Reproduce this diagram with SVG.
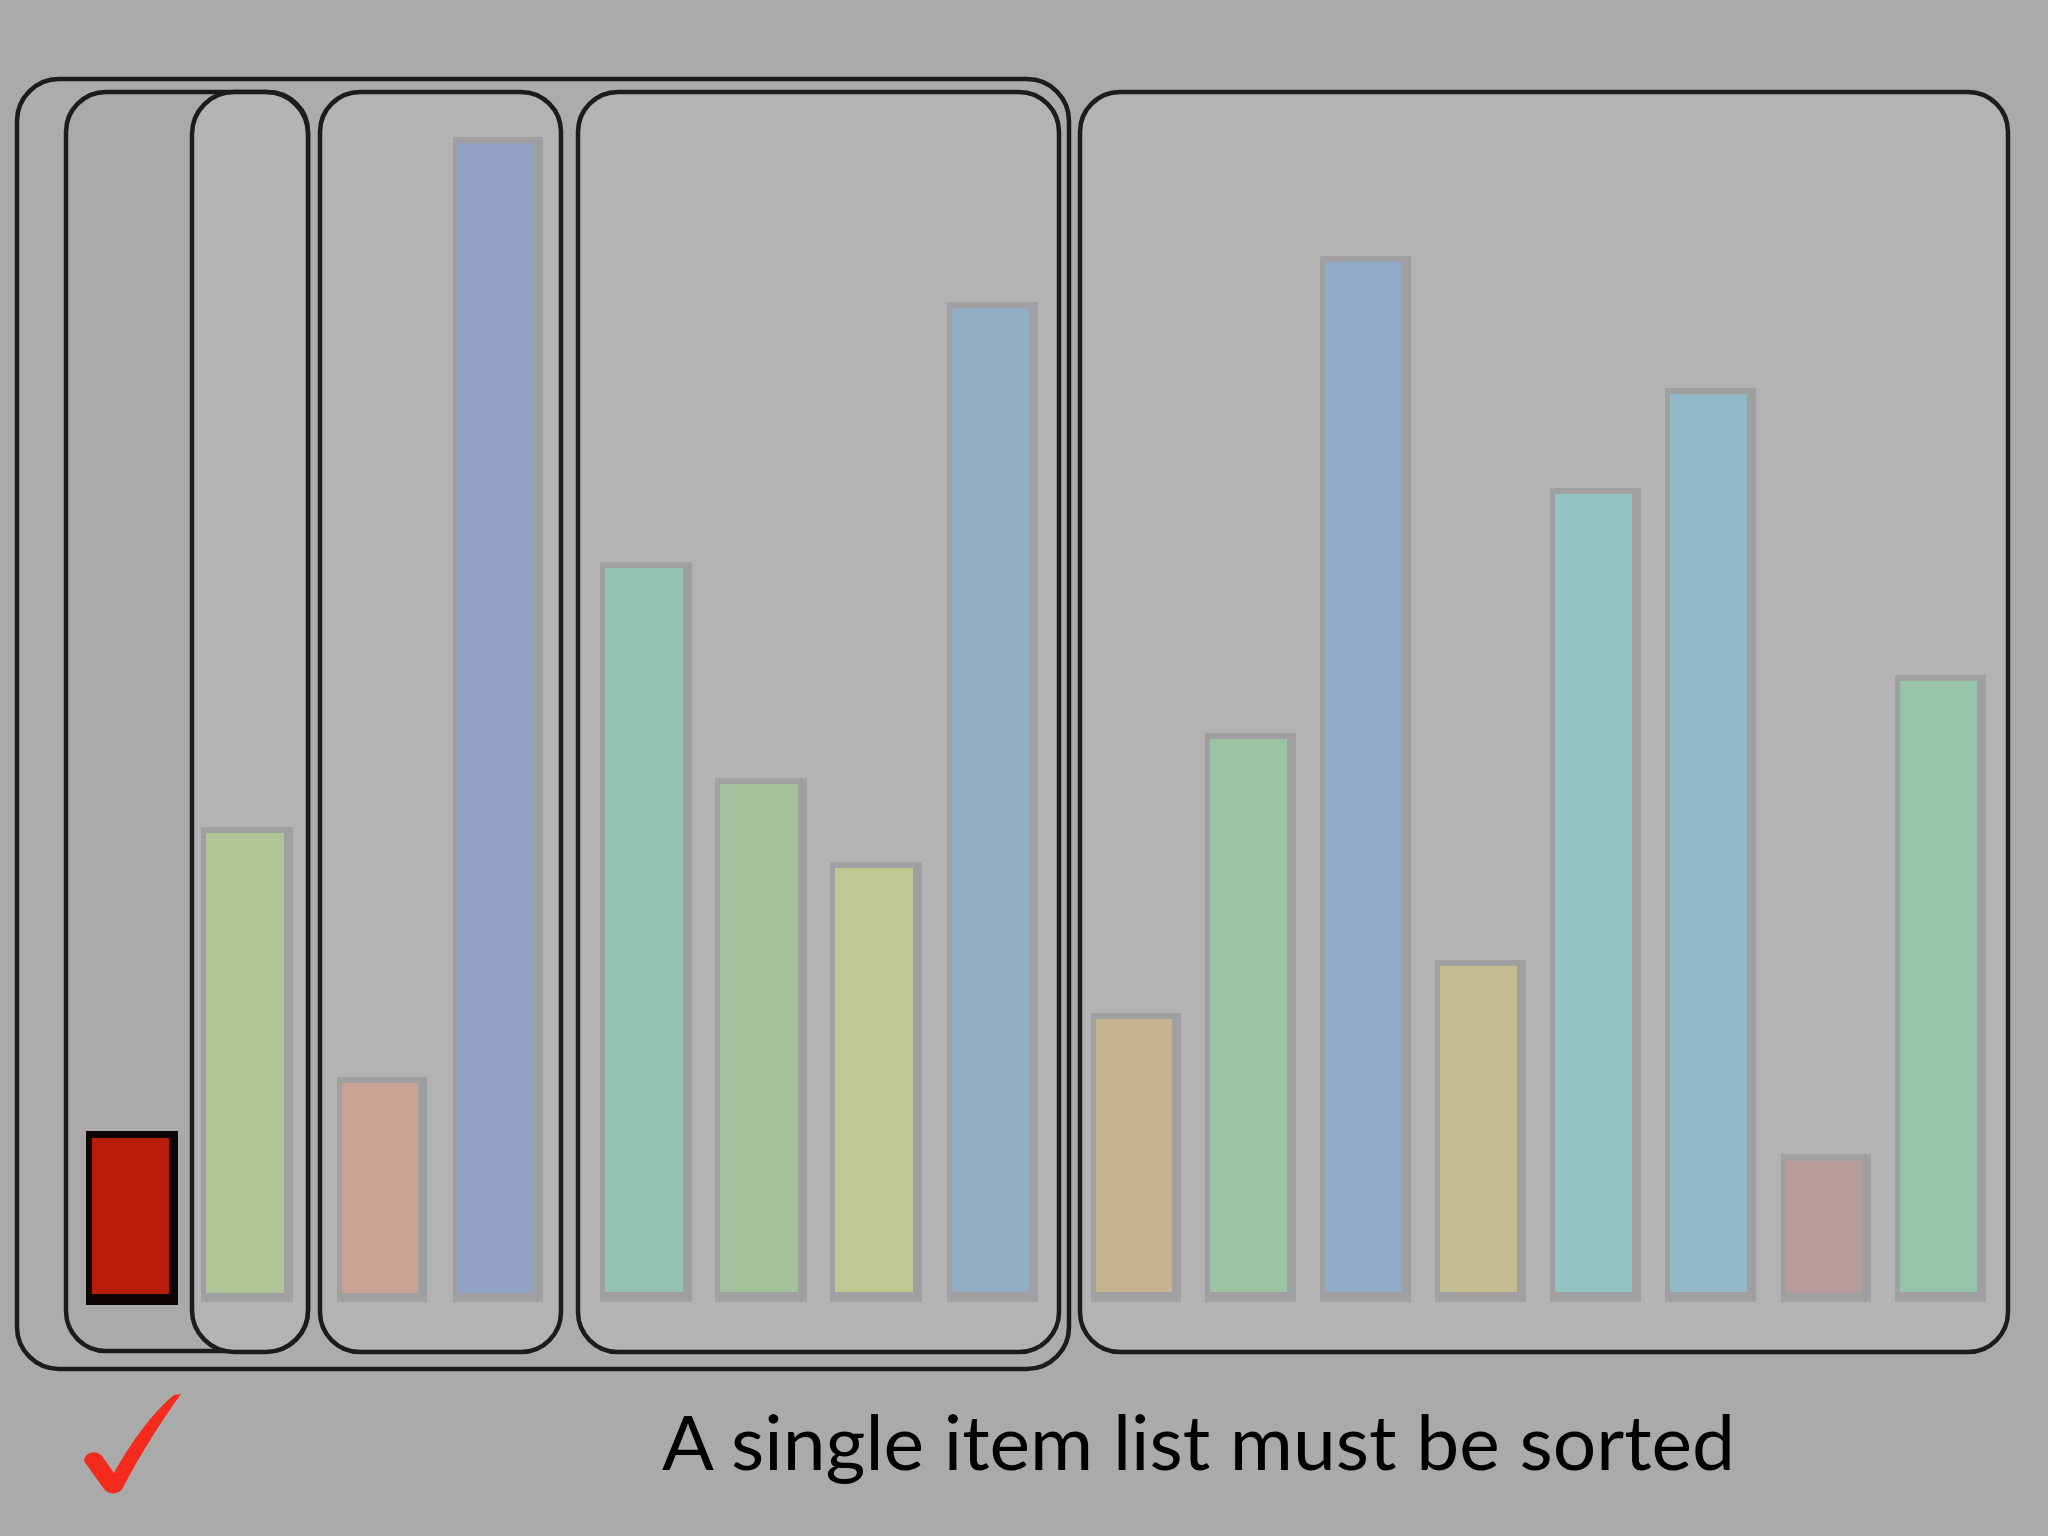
<svg xmlns="http://www.w3.org/2000/svg" width="2048" height="1536" viewBox="0 0 2048 1536">
<defs>
<style>
.box{fill:#b3b3b4;stroke:#1c1c1c;stroke-width:4.5}
.dark{fill:#aaaaab}
.bb{fill:#a0a0a2}
.txt{font-family:"Lato","Liberation Sans",sans-serif;font-size:76px;fill:#000}
</style>
</defs>
<rect width="2048" height="1536" fill="#aaaaaa"/>
<g id="outer"><rect x="17" y="79" width="1052" height="1290" rx="42" fill="#acacad" stroke="#1c1c1c" stroke-width="4.5"/></g>
<g id="box-left"><rect class="box dark" x="66" y="92" width="242" height="1259" rx="40"/></g>
<g id="box-one"><rect class="box" x="192" y="92" width="116" height="1260" rx="42" stroke-width="5.5"/></g>
<g id="box-two"><rect class="box" x="320" y="92" width="241" height="1260" rx="40"/></g>
<g id="box-four"><rect class="box" x="578" y="92" width="481" height="1260" rx="40"/></g>
<g id="box-right"><rect class="box" x="1080" y="92" width="928" height="1260" rx="40"/></g>
<g id="bars">
<g id="bar1"><rect x="86" y="1131" width="92" height="174" fill="#0d0605"/><rect x="92" y="1138" width="77" height="156" fill="#b81c0b"/></g>
<g id="bar2"><rect class="bb" x="201" y="827" width="92" height="475"/><rect x="206" y="833" width="78" height="460" fill="#b0c498"/></g>
<g id="bar3"><rect class="bb" x="337" y="1077" width="90" height="225"/><rect x="342" y="1083" width="76" height="210" fill="#c7a393"/></g>
<g id="bar4"><rect class="bb" x="453" y="137" width="90" height="1165"/><rect x="458" y="143" width="76" height="1150" fill="#93a3c4"/></g>
<g id="bar5"><rect class="bb" x="600" y="562" width="92" height="740"/><rect x="605" y="568" width="78" height="724" fill="#93c2b1"/></g>
<g id="bar6"><rect class="bb" x="715" y="778" width="92" height="524"/><rect x="720" y="784" width="78" height="508" fill="#a3c29b"/></g>
<g id="bar7"><rect class="bb" x="830" y="862" width="92" height="440"/><rect x="835" y="868" width="78" height="424" fill="#c0c792"/></g>
<g id="bar8"><rect class="bb" x="947" y="302" width="91" height="1000"/><rect x="952" y="308" width="77" height="984" fill="#93afc6"/></g>
<g id="bar9"><rect class="bb" x="1091" y="1013" width="90" height="289"/><rect x="1096" y="1019" width="76" height="273" fill="#c6b38f"/></g>
<g id="bar10"><rect class="bb" x="1205" y="733" width="91" height="569"/><rect x="1210" y="739" width="77" height="553" fill="#9bc3a4"/></g>
<g id="bar11"><rect class="bb" x="1320" y="256" width="91" height="1046"/><rect x="1325" y="262" width="77" height="1030" fill="#91abc6"/></g>
<g id="bar12"><rect class="bb" x="1435" y="960" width="91" height="342"/><rect x="1440" y="966" width="77" height="326" fill="#c6bc91"/></g>
<g id="bar13"><rect class="bb" x="1550" y="488" width="91" height="814"/><rect x="1555" y="494" width="77" height="798" fill="#93c3c3"/></g>
<g id="bar14"><rect class="bb" x="1665" y="388" width="91" height="914"/><rect x="1670" y="394" width="77" height="898" fill="#93b8c8"/></g>
<g id="bar15"><rect class="bb" x="1781" y="1154" width="90" height="148"/><rect x="1786" y="1161" width="76" height="132" fill="#b89c9a"/></g>
<g id="bar16"><rect class="bb" x="1895" y="675" width="91" height="627"/><rect x="1900" y="681" width="77" height="611" fill="#95c4ab"/></g>
</g>
<g id="check"><path d="M84,1461 C85,1452 96,1449 102,1456 L114,1473 C130,1443 155,1410 174,1395 L181,1394 C162,1420 138,1458 123,1488 C119,1495 109,1495 104,1489 Z" fill="#f42b1c"/></g>
<g id="caption"><text class="txt" x="662" y="1470" textLength="1073" lengthAdjust="spacingAndGlyphs">A single item list must be sorted</text></g>
</svg>
